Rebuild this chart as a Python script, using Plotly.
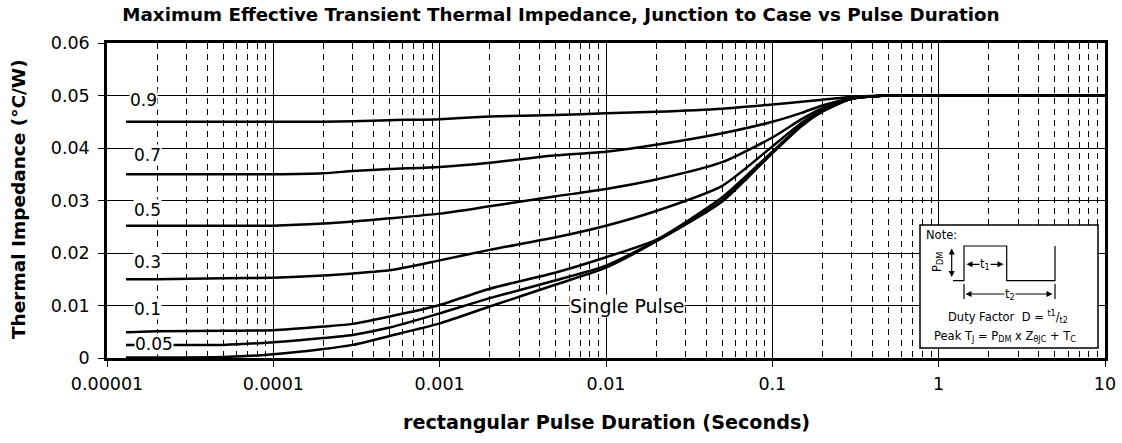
import plotly.graph_objects as go

# ---------------- data ----------------
t = [1.3e-5, 2e-5, 5e-5, 1e-4, 2e-4, 3e-4, 5e-4, 1e-3, 2e-3, 5e-3, 1e-2, 2e-2,
     5e-2, 0.1, 0.15, 0.2, 0.3, 0.5, 1, 10]
d09 = [0.045, 0.045, 0.045, 0.045, 0.045, 0.0451, 0.0453, 0.0455, 0.046, 0.0463,
       0.0466, 0.0469, 0.0475, 0.0483, 0.0488, 0.0492, 0.0497, 0.05, 0.05, 0.05]
d07 = [0.035, 0.035, 0.035, 0.035, 0.0352, 0.0356, 0.036, 0.0364, 0.0372, 0.0386,
       0.0393, 0.0406, 0.0428, 0.045, 0.0467, 0.0481, 0.0495, 0.05, 0.05, 0.05]
d05 = [0.0252, 0.0252, 0.0252, 0.0252, 0.0256, 0.026, 0.0266, 0.0275, 0.0289, 0.0308,
       0.0322, 0.034, 0.0373, 0.042, 0.0455, 0.0476, 0.0494, 0.05, 0.05, 0.05]
d03 = [0.015, 0.015, 0.0152, 0.0153, 0.0157, 0.0161, 0.0167, 0.0186, 0.0206, 0.023,
       0.0252, 0.028, 0.0328, 0.0403, 0.0448, 0.0472, 0.0494, 0.05, 0.05, 0.05]
d01 = [0.0049, 0.0051, 0.0052, 0.0053, 0.006, 0.0065, 0.0079, 0.0101, 0.0132, 0.0163,
       0.0192, 0.0225, 0.0306, 0.0393, 0.0444, 0.047, 0.0494, 0.05, 0.05, 0.05]
d005 = [0.0025, 0.0025, 0.0025, 0.003, 0.0038, 0.0044, 0.0058, 0.0085, 0.0114, 0.0148,
        0.0176, 0.0223, 0.03, 0.0392, 0.0443, 0.047, 0.0494, 0.05, 0.05, 0.05]
dsingle = [0.0001, 0.0001, 0.0002, 0.0007, 0.0017, 0.0025, 0.0042, 0.0066, 0.0098, 0.014,
           0.0172, 0.0222, 0.0298, 0.039, 0.0442, 0.0469, 0.0494, 0.05, 0.05, 0.05]
series = [("0.9", d09), ("0.7", d07), ("0.5", d05), ("0.3", d03),
          ("0.1", d01), ("0.05", d005), ("Single Pulse", dsingle)]

x_tickvals = [1e-5, 1e-4, 1e-3, 1e-2, 1e-1, 1, 10]
x_ticktext = ["0.00001", "0.0001", "0.001", "0.01", "0.1", "1", "10"]
y_tickvals = [0, 0.01, 0.02, 0.03, 0.04, 0.05, 0.06]
y_ticktext = ["0", "0.01", "0.02", "0.03", "0.04", "0.05", "0.06"]
minor_vals = [m * 10 ** e for e in range(-5, 1) for m in range(2, 10)]

# label positions (log10 x, y)
labels = [("0.9", -4.778, 0.0492), ("0.7", -4.759, 0.0386), ("0.5", -4.759, 0.0282),
          ("0.3", -4.759, 0.0183), ("0.1", -4.759, 0.0093), ("0.05", -4.717, 0.0026),
          ("Single Pulse", -1.873, 0.0099)]

FONT = "DejaVu Sans, sans-serif"

fig = go.Figure()
for name, vals in series:
    fig.add_trace(go.Scatter(x=t, y=vals, mode="lines", name=name,
                             line=dict(color="black", width=2.5, shape="spline", smoothing=0.6),
                             showlegend=False, hoverinfo="skip"))

annotations = []
for txt, lx, ly in labels:
    annotations.append(dict(x=lx, y=ly, xref="x", yref="y", text=txt, showarrow=False,
                            xanchor="center", yanchor="middle",
                            font=dict(size=19 if txt == "Single Pulse" else 17,
                                      color="black", family=FONT),
                            bgcolor="white", borderpad=0))

# ---------- layout helpers (pixel -> paper) ----------
L, R, T, B = 107, 1105, 43, 358
def px(x):
    return (x - L) / (R - L)
def py(y):
    return (B - y) / (B - T)

shapes = [
    dict(type="rect", xref="paper", yref="paper", x0=px(920), x1=px(1098), y0=py(348), y1=py(225),
         line=dict(color="black", width=1.5), fillcolor="white", layer="above"),
    dict(type="path", xref="paper", yref="paper",
         path=f"M{px(953)},{py(280.7)} L{px(964)},{py(280.7)} L{px(964)},{py(246)} "
              f"L{px(1006.7)},{py(246)} L{px(1006.7)},{py(280.7)} L{px(1055)},{py(280.7)} "
              f"L{px(1055)},{py(246)}",
         line=dict(color="black", width=1.2), layer="above"),
    dict(type="line", xref="paper", yref="paper", x0=px(964), x1=px(964), y0=py(284), y1=py(299),
         line=dict(color="black", width=1.2), layer="above"),
    dict(type="line", xref="paper", yref="paper", x0=px(1055), x1=px(1055), y0=py(284), y1=py(299),
         line=dict(color="black", width=1.2), layer="above"),
]

def arrow(x1, y1, x2, y2):
    return dict(x=px(x1), y=py(y1), xref="paper", yref="paper", ax=x2 - x1, ay=y2 - y1,
                axref="pixel", ayref="pixel", text="", showarrow=True, arrowhead=2,
                arrowside="end+start", arrowsize=1, arrowwidth=1.2, arrowcolor="black",
                standoff=0, startstandoff=0)

annotations += [
    arrow(951.7, 248.5, 951.7, 278.5),
    arrow(966.5, 264.3, 1005, 264.3),
    arrow(965.5, 294, 1054, 294),
]
small = dict(size=11.5, color="black", family=FONT)

def note(x, y, text, **kw):
    d = dict(x=px(x), y=py(y), xref="paper", yref="paper", text=text, showarrow=False,
             xanchor="center", yanchor="middle", font=small)
    d.update(kw)
    return d

annotations += [
    note(924, 235, "Note:", xanchor="left"),
    note(937, 262, "P<sub>DM</sub>", textangle=-90),
    note(985, 264.5, "t<sub>1</sub>", bgcolor="white", borderpad=0),
    note(1010, 294, "t<sub>2</sub>", bgcolor="white", borderpad=0),
    note(1008, 317, "Duty Factor  D = <sup>t1</sup>/<sub>t2</sub>"),
    note(1005, 336, "Peak T<sub>J</sub> = P<sub>DM</sub> x Z<sub>θJC</sub> + T<sub>C</sub>"),
]

# axis titles as annotations for exact placement
annotations += [
    dict(x=px(606), y=py(422), xref="paper", yref="paper", showarrow=False,
         xanchor="center", yanchor="middle",
         text="<b>rectangular Pulse Duration (Seconds)</b>",
         font=dict(size=19.2, family=FONT, color="black")),
    dict(x=px(18), y=py(199), xref="paper", yref="paper", showarrow=False,
         xanchor="center", yanchor="middle", textangle=-90,
         text="<b>Thermal Impedance (°C/W)</b>",
         font=dict(size=18.5, family=FONT, color="black")),
]

fig.update_layout(
    width=1122, height=443,
    margin=dict(l=L, r=1122 - R, t=T, b=443 - B, autoexpand=False),
    paper_bgcolor="white", plot_bgcolor="white",
    font=dict(family=FONT, color="black"),
    title=dict(text="<b>Maximum Effective Transient Thermal Impedance, Junction to Case vs Pulse Duration</b>",
               x=0.5, xanchor="center", xref="container", y=1 - 15 / 443, yanchor="middle",
               yref="container", font=dict(size=18.3, family=FONT, color="black")),
    xaxis=dict(type="log", range=[-5, 1], tickmode="array", tickvals=x_tickvals, ticktext=x_ticktext,
               ticks="outside", ticklen=6, tickcolor="black", tickwidth=1, automargin=False,
               ticklabelstandoff=2,
               tickfont=dict(size=17.5, family=FONT, color="black"),
               showgrid=True, gridcolor="black", gridwidth=1,
               minor=dict(tickmode="array", tickvals=minor_vals, showgrid=True, gridcolor="black",
                          gridwidth=1, griddash="6px,5px", ticks=""),
               showline=True, linecolor="black", linewidth=2.5, mirror=True, zeroline=False),
    yaxis=dict(range=[0, 0.06], tickmode="array", tickvals=y_tickvals, ticktext=y_ticktext,
               ticks="outside", ticklen=6, tickcolor="black", tickwidth=1, automargin=False,
               ticklabelstandoff=5,
               tickfont=dict(size=17.5, family=FONT, color="black"),
               showgrid=True, gridcolor="black", gridwidth=1,
               showline=True, linecolor="black", linewidth=2.5, mirror=True, zeroline=False),
    shapes=shapes,
    annotations=annotations,
)

fig.write_html("out.html", config={"displayModeBar": False},
               post_script="document.body.style.margin='0';document.body.style.overflow='hidden';")
